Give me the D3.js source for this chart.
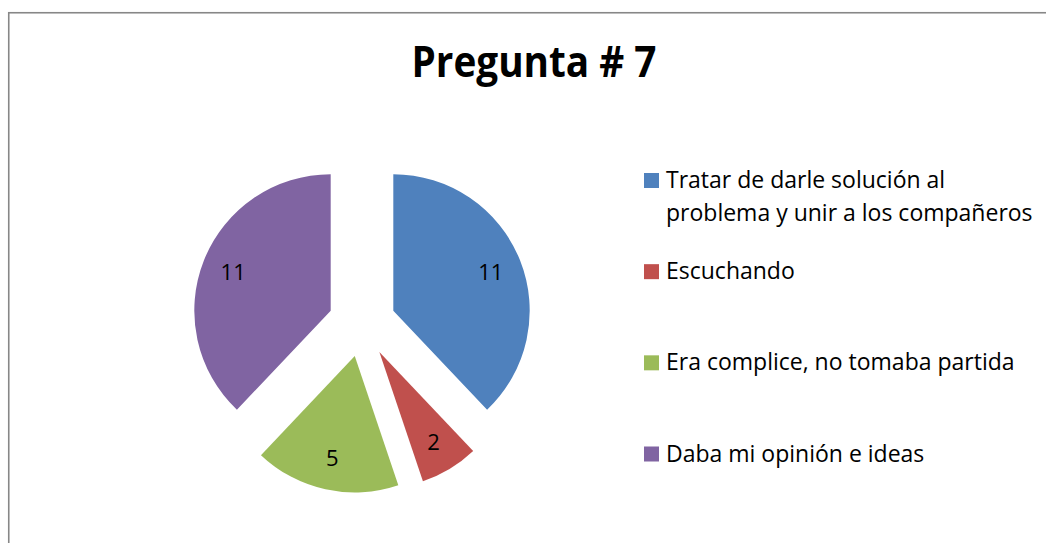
<!DOCTYPE html>
<html>
<head>
<meta charset="utf-8">
<script src="https://cdn.jsdelivr.net/npm/d3@7"></script>
<style>
  html, body { margin: 0; padding: 0; background: #fff; }
  svg { display: block; }
</style>
</head>
<body>
<svg id="chart" width="1046" height="543"></svg>
<script>
const title = "Pregunta # 7";
const categories = [
  "Tratar de darle solución al problema y unir a los compañeros",
  "Escuchando",
  "Era complice, no tomaba partida",
  "Daba mi opinión e ideas"
];
const legendLines = [
  ["Tratar de darle solución al", "problema y unir a los compañeros"],
  ["Escuchando"],
  ["Era complice, no tomaba partida"],
  ["Daba mi opinión e ideas"]
];
const values = [11, 2, 5, 11];
const colors = ["#4F81BD", "#C0504D", "#9BBB59", "#8064A2"];

const svg = d3.select("#chart");
const font = "'Open Sans', 'Liberation Sans', Arial, sans-serif";

// border
svg.append("rect")
  .attr("x", 8.75).attr("y", 12.75)
  .attr("width", 1100).attr("height", 600)
  .attr("fill", "#fff")
  .attr("stroke", "#878787")
  .attr("stroke-width", 1.6);

// title
svg.append("text")
  .attr("x", 534).attr("y", 77)
  .attr("text-anchor", "middle")
  .attr("font-family", font)
  .attr("font-weight", "bold")
  .attr("font-size", 43)
  .attr("textLength", 245)
  .attr("lengthAdjust", "spacingAndGlyphs")
  .attr("fill", "#000")
  .text(title);

// pie
const cx = 362, cy = 323.2, r = 136.4, explode = 33.7, labelR = 105;
const pie = d3.pie().sort(null).value(d => d)(values);
const arc = d3.arc().innerRadius(0).outerRadius(r);

const g = svg.append("g").attr("transform", `translate(${cx},${cy})`);
const slices = g.selectAll("g.slice").data(pie).enter().append("g")
  .attr("class", "slice")
  .attr("transform", d => {
    const a = (d.startAngle + d.endAngle) / 2;
    return `translate(${explode * Math.sin(a)},${-explode * Math.cos(a)})`;
  });
slices.append("path")
  .attr("d", arc)
  .attr("fill", (d, i) => colors[i]);
slices.append("text")
  .attr("x", d => labelR * Math.sin((d.startAngle + d.endAngle) / 2))
  .attr("y", d => -labelR * Math.cos((d.startAngle + d.endAngle) / 2))
  .attr("dy", "0.35em")
  .attr("text-anchor", "middle")
  .attr("font-family", font)
  .attr("font-size", 22)
  .attr("fill", "#000")
  .text(d => d.data);

// legend
const legendY = d3.scalePoint().domain(d3.range(categories.length)).range([180.5, 454]);
const lg = svg.append("g");
const items = lg.selectAll("g").data(categories).enter().append("g")
  .attr("transform", (d, i) => `translate(644,${legendY(i)})`);
items.append("rect")
  .attr("x", 0).attr("y", -7.5)
  .attr("width", 15).attr("height", 15)
  .attr("fill", (d, i) => colors[i]);
items.each(function(d, i) {
  const t = d3.select(this).append("text")
    .attr("font-family", font)
    .attr("font-size", 23)
    .attr("fill", "#000");
  legendLines[i].forEach((line, j) => {
    t.append("tspan").attr("x", 22).attr("y", 7.5 + j * 33.4).text(line);
  });
});
</script>
</body>
</html>
